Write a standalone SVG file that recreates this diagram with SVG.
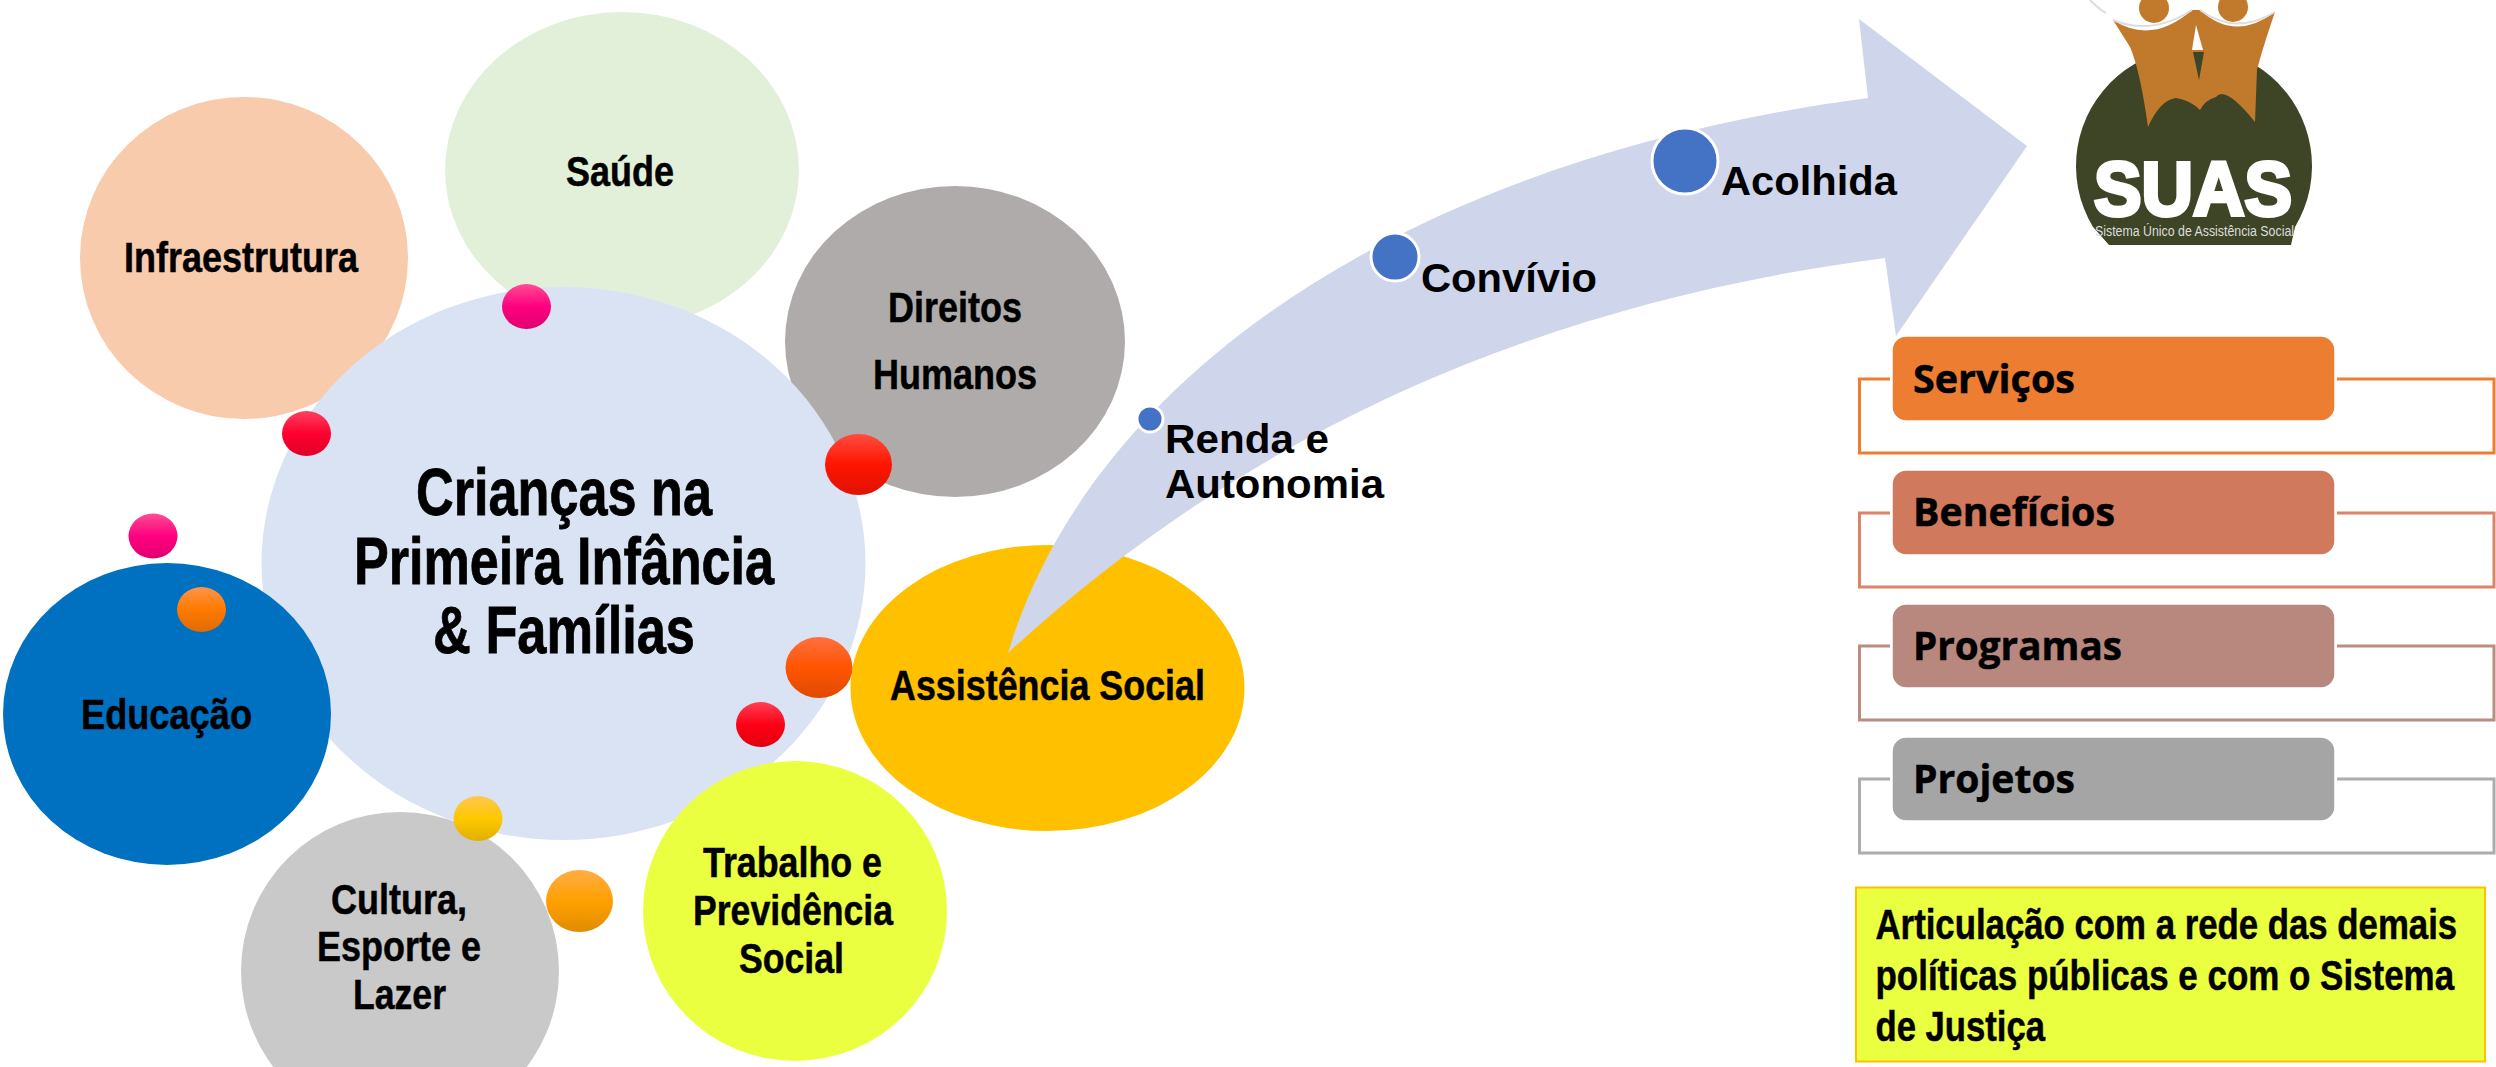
<svg xmlns="http://www.w3.org/2000/svg" width="2496" height="1067" viewBox="0 0 2496 1067">
<style>
text{font-family:"Liberation Sans",Arial,sans-serif;font-weight:700;fill:#000}
.l{font-size:42px;stroke:#000;stroke-width:.5}
.m{font-size:66px;stroke:#000;stroke-width:.8}
.a{font-size:41px}
.y{font-size:42px;stroke:#000;stroke-width:.5}
.c{font-family:"Open Sans","Noto Sans",sans-serif;font-size:40px;stroke:#000;stroke-width:.5}
.o{fill:none;stroke-width:3}
.b{stroke:#fff;stroke-width:1.5}
.d{fill:#4472C4;stroke:#fff;stroke-width:3}
</style>
<defs>
<linearGradient id="gPink" x1="0" y1="0" x2="0" y2="1"><stop offset="0" stop-color="#FF4D93"/><stop offset=".5" stop-color="#FF0080"/><stop offset="1" stop-color="#E00070"/></linearGradient>
<linearGradient id="gCrim" x1="0" y1="0" x2="0" y2="1"><stop offset="0" stop-color="#FF4060"/><stop offset=".5" stop-color="#FF0030"/><stop offset="1" stop-color="#E0002A"/></linearGradient>
<linearGradient id="gRed" x1="0" y1="0" x2="0" y2="1"><stop offset="0" stop-color="#FF4D40"/><stop offset=".5" stop-color="#FF1500"/><stop offset="1" stop-color="#E01200"/></linearGradient>
<linearGradient id="gRed2" x1="0" y1="0" x2="0" y2="1"><stop offset="0" stop-color="#FF4055"/><stop offset=".5" stop-color="#FF0015"/><stop offset="1" stop-color="#E00010"/></linearGradient>
<linearGradient id="gOr1" x1="0" y1="0" x2="0" y2="1"><stop offset="0" stop-color="#FF9548"/><stop offset=".5" stop-color="#FF7A00"/><stop offset="1" stop-color="#E06B00"/></linearGradient>
<linearGradient id="gOr2" x1="0" y1="0" x2="0" y2="1"><stop offset="0" stop-color="#FF7040"/><stop offset=".5" stop-color="#FF5500"/><stop offset="1" stop-color="#E04A00"/></linearGradient>
<linearGradient id="gYel" x1="0" y1="0" x2="0" y2="1"><stop offset="0" stop-color="#FFC84D"/><stop offset=".5" stop-color="#FFC800"/><stop offset="1" stop-color="#E0B000"/></linearGradient>
<linearGradient id="gOr3" x1="0" y1="0" x2="0" y2="1"><stop offset="0" stop-color="#FFAD45"/><stop offset=".5" stop-color="#FFA000"/><stop offset="1" stop-color="#E08C00"/></linearGradient>
</defs>
<rect width="2496" height="1067" fill="#fff"/>

<g id="node-saude"><ellipse cx="622" cy="170" rx="177" ry="158" fill="#E2F0D9"/><text class="l" x="566" y="186" textLength="108" lengthAdjust="spacingAndGlyphs">Saúde</text></g>
<g id="node-direitos"><ellipse cx="955" cy="341.500" rx="170" ry="155.500" fill="#AFABAB"/><text class="l" x="888" y="322" textLength="134" lengthAdjust="spacingAndGlyphs">Direitos</text><text class="l" x="873" y="389" textLength="164" lengthAdjust="spacingAndGlyphs">Humanos</text></g>
<g id="node-infra"><ellipse cx="244" cy="258" rx="164" ry="161" fill="#F8CBAD"/></g>
<g id="node-central"><ellipse cx="563.500" cy="563.500" rx="302" ry="276.500" fill="#DAE3F3"/><text class="m" x="416" y="515" textLength="296" lengthAdjust="spacingAndGlyphs">Crianças na</text><text class="m" x="354" y="584" textLength="420" lengthAdjust="spacingAndGlyphs">Primeira Infância</text><text class="m" x="433" y="653" textLength="262" lengthAdjust="spacingAndGlyphs">&amp; Famílias</text></g>
<g id="node-infra-label"><text class="l" x="124" y="272" textLength="234" lengthAdjust="spacingAndGlyphs">Infraestrutura</text></g>
<g id="node-assistencia"><ellipse cx="1047.500" cy="688" rx="197" ry="143" fill="#FFC000"/><text class="l" x="890" y="700" textLength="315" lengthAdjust="spacingAndGlyphs">Assistência Social</text></g>
<g id="node-educacao"><ellipse cx="167" cy="714" rx="164" ry="151" fill="#0070C0"/><text class="l" x="81" y="729" textLength="171" lengthAdjust="spacingAndGlyphs">Educação</text></g>
<g id="node-cultura"><ellipse cx="400" cy="971" rx="159" ry="159" fill="#C9C9C9"/><text class="l" x="331" y="914" textLength="136" lengthAdjust="spacingAndGlyphs">Cultura,</text><text class="l" x="317" y="961" textLength="164" lengthAdjust="spacingAndGlyphs">Esporte e</text><text class="l" x="353" y="1009" textLength="93" lengthAdjust="spacingAndGlyphs">Lazer</text></g>
<g id="node-trabalho"><ellipse cx="795" cy="911" rx="152" ry="150" fill="#EAFF3F"/><text class="l" x="703" y="877" textLength="179" lengthAdjust="spacingAndGlyphs">Trabalho e</text><text class="l" x="693" y="925" textLength="200" lengthAdjust="spacingAndGlyphs">Previdência</text><text class="l" x="739" y="973" textLength="105" lengthAdjust="spacingAndGlyphs">Social</text></g>

<g id="dots">
<ellipse cx="526.500" cy="306.500" rx="24.500" ry="22.500" fill="url(#gPink)"/>
<ellipse cx="306.500" cy="433.500" rx="24.500" ry="22.500" fill="url(#gCrim)"/>
<ellipse cx="858.500" cy="464.500" rx="33.500" ry="30.500" fill="url(#gRed)"/>
<ellipse cx="153" cy="536" rx="24.500" ry="22.500" fill="url(#gPink)"/>
<ellipse cx="201.500" cy="609.500" rx="24.500" ry="22.500" fill="url(#gOr1)"/>
<ellipse cx="819" cy="667.500" rx="33.500" ry="30.500" fill="url(#gOr2)"/>
<ellipse cx="760.500" cy="724.500" rx="24.500" ry="22.500" fill="url(#gRed2)"/>
<ellipse cx="478" cy="818.500" rx="24.500" ry="22.500" fill="url(#gYel)"/>
<ellipse cx="579.500" cy="901" rx="33.500" ry="31" fill="url(#gOr3)"/>
</g>

<g id="connectors">
<path id="arrow" d="M1008 653C1090 380 1400 160 1868 98L1859 19L2027 146L1896 336L1885 258C1560 300 1260 420 1008 653Z" fill="#CFD5EA"/>
</g>

<g id="node-renda"><circle class="d" cx="1150" cy="419" r="13"/><text class="a" x="1165" y="453" textLength="164" lengthAdjust="spacingAndGlyphs">Renda e</text><text class="a" x="1165" y="498" textLength="219" lengthAdjust="spacingAndGlyphs">Autonomia</text></g>
<g id="node-convivio"><circle class="d" cx="1395" cy="257" r="24"/><text class="a" x="1421" y="292" textLength="176" lengthAdjust="spacingAndGlyphs">Convívio</text></g>
<g id="node-acolhida"><circle class="d" cx="1685" cy="161" r="33"/><text class="a" x="1721" y="195" textLength="176" lengthAdjust="spacingAndGlyphs">Acolhida</text></g>

<g id="logo">
<path d="M2109 245L2093 227A118 118 0 1 1 2295 227L2291 245Z" fill="#3D4526"/>
<path d="M2113 20Q2152 45 2192 10L2200 10Q2235 42 2275 12Q2262 50 2257 70L2255 122Q2225 85 2216 97Q2205 100 2200 110Q2190 100 2176 98Q2160 100 2148 127Q2140 70 2130 47Z" fill="#C17A2B"/>
<path d="M2196 25L2192 50H2203Z" fill="#fff"/>
<path d="M2193 52H2204L2199 80Z" fill="#3D4526"/>
<circle cx="2154" cy="8" r="15" fill="#C17A2B"/>
<circle cx="2233" cy="7" r="15" fill="#C17A2B"/>
<path d="M2090 0Q2100 10 2106 13M2113 20Q2152 36 2192 10M2200 10Q2235 36 2275 12" fill="none" stroke="#ddd" stroke-width="2"/>
<text x="2094" y="215" font-size="76" style="fill:#fff;stroke:#fff;stroke-width:4" textLength="198" lengthAdjust="spacingAndGlyphs">SUAS</text>
<text x="2095" y="236" font-size="14" style="fill:#ddd;font-weight:400" textLength="199" lengthAdjust="spacingAndGlyphs">Sistema Único de Assistência Social</text>
</g>

<g id="node-servicos"><path class="o" stroke="#ED7D31" d="M1890 379H1859.500V453H2494V379H2337"/><rect class="b" x="1892" y="336" width="443" height="85" rx="14" fill="#ED7D31"/><text class="c" x="1913" y="393" textLength="162" lengthAdjust="spacingAndGlyphs">Serviços</text></g>
<g id="node-beneficios"><path class="o" stroke="#DC8465" d="M1890 513H1859.500V587H2494V513H2337"/><rect class="b" x="1892" y="470" width="443" height="85" rx="14" fill="#D0795C"/><text class="c" x="1913" y="526" textLength="202" lengthAdjust="spacingAndGlyphs">Benefícios</text></g>
<g id="node-programas"><path class="o" stroke="#BC8C80" d="M1890 646H1859.500V720H2494V646H2337"/><rect class="b" x="1892" y="604" width="443" height="84" rx="14" fill="#B8877E"/><text class="c" x="1913" y="660" textLength="209" lengthAdjust="spacingAndGlyphs">Programas</text></g>
<g id="node-projetos"><path class="o" stroke="#ACACAC" d="M1890 779H1859.500V853H2494V779H2337"/><rect class="b" x="1892" y="737" width="443" height="84" rx="14" fill="#A5A5A5"/><text class="c" x="1913" y="793" textLength="162" lengthAdjust="spacingAndGlyphs">Projetos</text></g>

<g id="node-articulacao"><rect x="1856" y="887.500" width="629" height="174" fill="#EAFF3F" stroke="#FFC000" stroke-width="2"/><text class="y" transform="translate(1875.500 939) scale(.828 1)">Articulação com a rede das demais</text><text class="y" transform="translate(1875.500 990) scale(.832 1)">políticas públicas e com o Sistema</text><text class="y" transform="translate(1875.500 1041) scale(.825 1)">de Justiça</text></g>
</svg>
